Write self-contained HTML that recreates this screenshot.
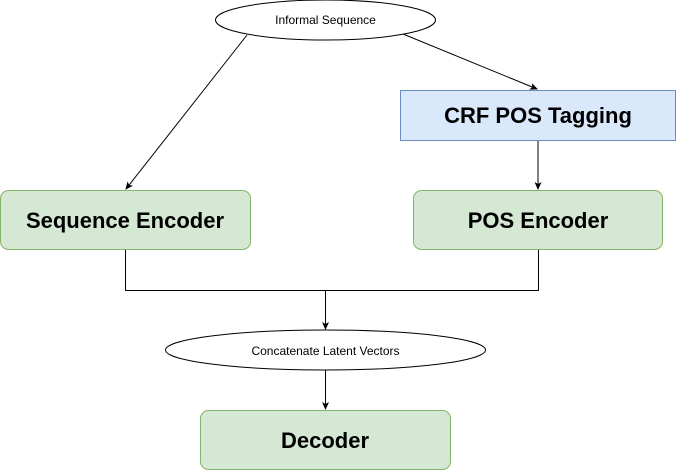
<!DOCTYPE html>
<html><head><style>
body{margin:0;background:#fff;width:676px;height:471px;overflow:hidden}
</style></head><body>
<svg width="676" height="471" xmlns="http://www.w3.org/2000/svg" font-family="Liberation Sans, sans-serif">
<defs><marker id="a" markerWidth="8" markerHeight="8" refX="7" refY="4" orient="auto" markerUnits="userSpaceOnUse"><path d="M0,0.5 L8,4 L0,7.5 L2,4z" fill="#000"/></marker></defs>
<ellipse cx="325.5" cy="20" rx="110" ry="20" fill="#fff" stroke="#000"/>
<text x="325.5" y="24" font-size="12" text-anchor="middle">Informal Sequence</text>
<rect x="400.5" y="90.5" width="275" height="50" fill="#dae8fc" stroke="#6c8ebf"/>
<text x="538" y="123" font-size="22" font-weight="bold" text-anchor="middle">CRF POS Tagging</text>
<rect x="0.5" y="190.5" width="250" height="59" rx="8" fill="#d5e8d4" stroke="#82b366"/>
<text x="125" y="228" font-size="22" font-weight="bold" text-anchor="middle">Sequence Encoder</text>
<rect x="413.5" y="190.5" width="249" height="59" rx="8" fill="#d5e8d4" stroke="#82b366"/>
<text x="538" y="228" font-size="22" font-weight="bold" text-anchor="middle">POS Encoder</text>
<ellipse cx="325.5" cy="350" rx="160" ry="20" fill="#fff" stroke="#000"/>
<text x="325.5" y="355" font-size="12" text-anchor="middle">Concatenate Latent Vectors</text>
<rect x="200.5" y="410.5" width="250" height="59" rx="8" fill="#d5e8d4" stroke="#82b366"/>
<text x="325" y="448" font-size="22" font-weight="bold" text-anchor="middle">Decoder</text>
<g stroke="#000" fill="none">
<path d="M247,35 L126,189" marker-end="url(#a)"/>
<path d="M403,34 L537,89" marker-end="url(#a)"/>
<path d="M538,141 L538,189" marker-end="url(#a)"/>
<path d="M125.5,250 V290.5 H538.5 V250"/>
<path d="M325.5,290 V329" marker-end="url(#a)"/>
<path d="M325.5,370 V409" marker-end="url(#a)"/>
</g>
</svg>
</body></html>
